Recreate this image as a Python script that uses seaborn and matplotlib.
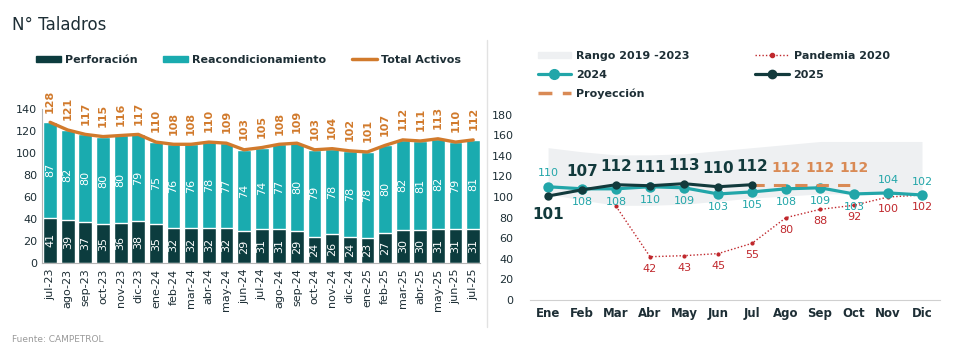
import matplotlib
matplotlib.use("Agg")
import matplotlib.pyplot as plt
import seaborn as sns
import pandas as pd
from matplotlib.lines import Line2D
from matplotlib.patches import Patch

# --- data -------------------------------------------------------------
meses = ["jul-23", "ago-23", "sep-23", "oct-23", "nov-23", "dic-23",
         "ene-24", "feb-24", "mar-24", "abr-24", "may-24", "jun-24",
         "jul-24", "ago-24", "sep-24", "oct-24", "nov-24", "dic-24",
         "ene-25", "feb-25", "mar-25", "abr-25", "may-25", "jun-25", "jul-25"]
perforacion = [41, 39, 37, 35, 36, 38, 35, 32, 32, 32, 32, 29, 31,
               31, 29, 24, 26, 24, 23, 27, 30, 30, 31, 31, 31]
reacond = [87, 82, 80, 80, 80, 79, 75, 76, 76, 78, 77, 74, 74,
           77, 80, 79, 78, 78, 78, 80, 82, 81, 82, 79, 81]
total = [128, 121, 117, 115, 116, 117, 110, 108, 108, 110, 109, 103, 105,
         108, 109, 103, 104, 102, 101, 107, 112, 111, 113, 110, 112]

mes_corto = ["Ene", "Feb", "Mar", "Abr", "May", "Jun",
             "Jul", "Ago", "Sep", "Oct", "Nov", "Dic"]
rango_max = [148, 144, 141, 141, 142, 145, 148, 151, 154, 154, 154, 154]
rango_min = [103, 97, 92, 92, 93, 96, 99, 101, 103, 103, 103, 103]
pandemia = [None, None, 91, 42, 43, 45, 55, 80, 88, 92, 100, 102]
serie_2024 = [110, 108, 108, 110, 109, 103, 105, 108, 109, 103, 104, 102]
serie_2025 = [101, 107, 112, 111, 113, 110, 112]
proyeccion = [None, None, None, None, None, None, 112, 112, 112, 112]

# --- colours ------------------------------------------------------------
c_perf = "#0c3c3e"
c_reac = "#1aabaf"
c_total = "#d17a2c"
c_2024 = "#22a6a9"
c_2025 = "#123a3c"
c_proy = "#d98a55"
c_pand = "#c0282d"
c_text = "#1d2e35"

sns.set_style("white")
plt.rcParams["font.family"] = ["DejaVu Sans"]

fig = plt.figure(figsize=(9.59, 3.52), dpi=100)
ax1 = fig.add_axes([0.0438, 0.253, 0.457, 0.437])
ax2 = fig.add_axes([0.5527, 0.148, 0.4275, 0.526])

# --- left: stacked bars -------------------------------------------------
df = pd.DataFrame({"mes": meses, "perf": perforacion, "reac": reacond, "total": total})
df["x"] = range(len(df))
sns.barplot(data=df, x="mes", y="total", color=c_reac, width=0.78,
            saturation=1, ax=ax1)
sns.barplot(data=df, x="mes", y="perf", color=c_perf, width=0.78,
            saturation=1, ax=ax1)
sns.lineplot(data=df, x="x", y="total", color=c_total, linewidth=2.4, ax=ax1)

for i, (p, r, t) in enumerate(zip(perforacion, reacond, total)):
    ax1.text(i, p / 2, str(p), rotation=90, ha="center", va="center",
             color="white", fontsize=8)
    ax1.text(i, p + r / 2, str(r), rotation=90, ha="center", va="center",
             color="white", fontsize=8)
    ax1.annotate(str(t), (i, t), xytext=(0, 7), textcoords="offset points",
                 rotation=90, ha="center", va="bottom", color=c_total,
                 fontsize=8, fontweight="bold", annotation_clip=False)

ax1.set_xlim(-0.46, 24.4)
ax1.set_ylim(0, 140)
ax1.set_yticks(range(0, 141, 20))
ax1.set_xlabel("")
ax1.set_ylabel("")
ax1.tick_params(axis="x", rotation=90, labelsize=8, colors=c_text, length=0, pad=4)
ax1.tick_params(axis="y", labelsize=8, colors=c_text, length=0)
for s in ["top", "right"]:
    ax1.spines[s].set_visible(False)
for s in ["left", "bottom"]:
    ax1.spines[s].set_color("#b5b5b5")

leg1 = [Patch(color=c_perf, label="Perforación"),
        Patch(color=c_reac, label="Reacondicionamiento"),
        Line2D([0], [0], color=c_total, lw=2.5, label="Total Activos")]
fig.legend(handles=leg1, loc="center left", bbox_to_anchor=(0.032, 0.83), ncol=3,
           frameon=False, handlelength=2.25, handleheight=0.5, handletextpad=0.35,
           columnspacing=2.3, borderpad=0, prop={"size": 8, "weight": "bold"},
           labelcolor=c_text)

# --- right: monthly comparison ----------------------------------------
x12 = list(range(12))
ax2.fill_between(x12, rango_min, rango_max, color="#eef0f2", lw=0, zorder=0)

d_pand = pd.DataFrame({"x": x12, "v": pandemia}).dropna()
sns.lineplot(data=d_pand, x="x", y="v", color=c_pand, lw=1, linestyle=(0, (1, 1.5)),
             marker="o", markersize=3, markeredgewidth=0, ax=ax2, zorder=2)
d24 = pd.DataFrame({"x": x12, "v": serie_2024})
sns.lineplot(data=d24, x="x", y="v", color=c_2024, lw=2.3, marker="o",
             markersize=7.5, markeredgewidth=0, ax=ax2, zorder=3)
d_proy = pd.DataFrame({"x": range(len(proyeccion)), "v": proyeccion}).dropna()
sns.lineplot(data=d_proy, x="x", y="v", color=c_proy, lw=2.2,
             linestyle=(0, (4, 3)), ax=ax2, zorder=4)
d25 = pd.DataFrame({"x": range(len(serie_2025)), "v": serie_2025})
sns.lineplot(data=d25, x="x", y="v", color=c_2025, lw=2.2, marker="o",
             markersize=6, markeredgewidth=0, ax=ax2, zorder=5)

for i, v in enumerate(serie_2025):
    dy = -8 if i == 0 else 8
    ax2.annotate(str(v), (i, v), xytext=(0, dy), textcoords="offset points",
                 ha="center", va="top" if dy < 0 else "bottom", color=c_2025,
                 fontsize=11, fontweight="bold")
for i, v in enumerate(serie_2024):
    up = i in (0, 10, 11)
    ax2.annotate(str(v), (i, v), xytext=(0, 6 if up else -6),
                 textcoords="offset points", ha="center",
                 va="bottom" if up else "top", color=c_2024, fontsize=8)
for i, v in enumerate(proyeccion):
    if v is not None and i > 6:
        ax2.annotate(str(v), (i, v), xytext=(0, 7), textcoords="offset points",
                     ha="center", va="bottom", color=c_proy, fontsize=10,
                     fontweight="bold")
for i, v in enumerate(pandemia):
    if v is not None and i > 2:
        ax2.annotate(str(v), (i, v), xytext=(0, -5), textcoords="offset points",
                     ha="center", va="top", color=c_pand, fontsize=8)

ax2.set_xlim(-0.53, 11.53)
ax2.set_ylim(0, 180)
ax2.set_yticks(range(0, 181, 20))
ax2.set_xticks(x12)
ax2.set_xticklabels(mes_corto, fontweight="bold")
ax2.set_xlabel("")
ax2.set_ylabel("")
ax2.tick_params(axis="x", labelsize=8.5, colors=c_text, length=0, pad=5)
ax2.tick_params(axis="y", labelsize=8, colors=c_text, length=0, pad=12)
for s in ["top", "right", "left"]:
    ax2.spines[s].set_visible(False)
ax2.spines["bottom"].set_color("#d0d0d0")

# legend entries ordered so that rows read like the original
leg2 = [Patch(color="#eef0f2", label="Rango 2019 -2023"),
        Line2D([0], [0], color=c_2024, lw=2.3, marker="o", markersize=7,
               label="2024"),
        Line2D([0], [0], color=c_proy, lw=2.5, linestyle=(0, (4, 3)),
               label="Proyección"),
        Line2D([0], [0], color=c_pand, lw=1, linestyle=(0, (1, 1.5)), marker="o",
               markersize=3, label="Pandemia 2020"),
        Line2D([0], [0], color=c_2025, lw=2.3, marker="o", markersize=6,
               label="2025")]
fig.legend(handles=leg2, loc="upper left", bbox_to_anchor=(0.555, 0.872), ncol=2,
           frameon=False, handlelength=3.0, handleheight=0.5, handletextpad=0.45,
           columnspacing=5.9, labelspacing=0.8, borderpad=0,
           prop={"size": 8, "weight": "bold"}, labelcolor=c_text)

# --- frame texts ------------------------------------------------------
fig.text(0.012, 0.93, "N° Taladros", fontsize=12, color=c_text, va="center")
fig.text(0.012, 0.035, "Fuente: CAMPETROL", fontsize=6.5, color="#9a9a9a",
         va="center")
fig.add_artist(Line2D([0.508, 0.508], [0.07, 0.885], color="#e2e2e2", lw=1))

fig.savefig("out.png", dpi=100)
